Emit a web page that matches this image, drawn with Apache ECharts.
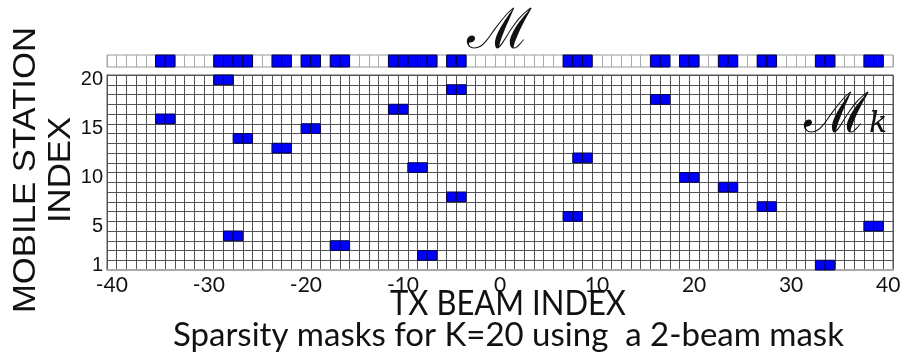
<!DOCTYPE html>
<html><head><meta charset="utf-8">
<script src="https://cdn.jsdelivr.net/npm/echarts@6/dist/echarts.min.js"></script>
<style>html,body{margin:0;padding:0;background:#fff}#c{width:910px;height:356px}</style>
</head><body><div id="c"></div>
<script>
// Categories
const beamIndex = [];
for (let b = -40; b <= 40; b++) beamIndex.push(b);
const stationIndex = [1,2,3,4,5,6,7,8,9,10,11,12,13,14,15,16,17,18,19,20];
// Tick labels
const xTickLabels = [-40,-30,-20,-10,0,10,20,30,40];
const yTickLabels = [1,5,10,15,20];
// 2-beam sparsity mask per mobile station (station 1..20)
const stationMasks = [
  [33,34],[-8,-7],[-17,-16],[-28,-27],[38,39],
  [7,8],[27,28],[-5,-4],[23,24],[19,20],
  [-9,-8],[8,9],[-23,-22],[-27,-26],[-20,-19],
  [-35,-34],[-11,-10],[16,17],[-5,-4],[-29,-28]
];
// Texts
const xAxisTitle = 'TX BEAM INDEX';
const yAxisTitle = 'MOBILE STATION\nINDEX';
const chartTitle = 'Sparsity masks for K=20 using  a 2-beam mask';

const mainCells = [];
stationMasks.forEach((beams, i) => {
  beams.forEach(b => mainCells.push([beamIndex.indexOf(b), i]));
});
const unionSet = new Set();
stationMasks.forEach(beams => beams.forEach(b => unionSet.add(b)));
const unionCells = [...unionSet].map(b => [beamIndex.indexOf(b), 0]);

function cellRect(params, api) {
  const c = api.coord([api.value(0), api.value(1)]);
  const s = api.size([1, 1]);
  return {
    type: 'rect',
    shape: { x: c[0] - s[0] / 2, y: c[1] - s[1] / 2, width: s[0], height: s[1] },
    style: { fill: '#0000ff', stroke: '#000040', lineWidth: 1 }
  };
}

const chart = echarts.init(document.getElementById('c'), null, { renderer: 'canvas' });
chart.setOption({
  animation: false,
  backgroundColor: '#fff',
  title: {
    text: chartTitle, left: 168, top: 314,
    textStyle: { fontFamily: 'Lato', fontWeight: 'normal', fontSize: 33, color: '#111' }
  },
  grid: [
    { left: 107, right: 17, top: 75, height: 195, show: true, borderColor: '#555', borderWidth: 1, backgroundColor: '#fff' },
    { left: 107, right: 17, top: 55, height: 12, show: true, borderColor: '#999', borderWidth: 1, backgroundColor: '#fff' }
  ],
  xAxis: [
    {
      type: 'category', gridIndex: 0, data: beamIndex, boundaryGap: true,
      axisLine: { show: true, lineStyle: { color: '#aaa', width: 2 } },
      axisTick: { show: false },
      axisLabel: {
        interval: 0, margin: 5,
        formatter: v => xTickLabels.includes(+v) ? String(v) : '',
        fontFamily: 'Lato', fontSize: 21, color: '#111'
      },
      splitLine: { show: true, interval: 0, lineStyle: { color: '#555', width: 1 } }
    },
    {
      type: 'category', gridIndex: 1, data: beamIndex, boundaryGap: true,
      axisLine: { show: false }, axisTick: { show: false }, axisLabel: { show: false },
      splitLine: { show: true, interval: 0, lineStyle: { color: '#aaa', width: 1 } }
    }
  ],
  yAxis: [
    {
      type: 'category', gridIndex: 0, data: stationIndex, boundaryGap: true,
      axisLine: { show: true, lineStyle: { color: '#555' } },
      axisTick: { show: false },
      axisLabel: {
        interval: 0, margin: 4,
        formatter: v => yTickLabels.includes(+v) ? String(v) : '',
        fontFamily: 'Liberation Sans', fontSize: 20, color: '#111'
      },
      splitLine: { show: true, interval: 0, lineStyle: { color: '#555', width: 1 } }
    },
    {
      type: 'category', gridIndex: 1, data: ['M'], boundaryGap: true,
      axisLine: { show: false }, axisTick: { show: false }, axisLabel: { show: false },
      splitLine: { show: false }
    }
  ],
  series: [
    { type: 'custom', xAxisIndex: 0, yAxisIndex: 0, renderItem: cellRect, data: mainCells, z: 5 },
    { type: 'custom', xAxisIndex: 1, yAxisIndex: 1, renderItem: cellRect, data: unionCells, z: 5 }
  ],
  graphic: [
    { type: 'text', x: 44, y: 170, rotation: Math.PI / 2, scaleX: 1.12,
      style: { text: yAxisTitle, fontFamily: 'Liberation Sans', fontSize: 31, lineHeight: 35,
               align: 'center', verticalAlign: 'middle', fill: '#111' }, z: 100 },
    { type: 'text', x: 508, y: 304, scaleY: 1.12,
      style: { text: xAxisTitle, fontFamily: 'Lato', fontSize: 31, fill: '#111',
               align: 'center', verticalAlign: 'middle' }, z: 100 },
    { type: 'text', x: 499, y: 33, style: { text: 'ℳ', fontFamily: 'DejaVu Serif', fontSize: 56, fill: '#111', align: 'center', verticalAlign: 'middle' }, z: 100 },
    { type: 'text', x: 836, y: 117, style: { text: 'ℳ', fontFamily: 'DejaVu Serif', fontSize: 56, fill: '#111', align: 'center', verticalAlign: 'middle' }, z: 100 },
    { type: 'text', x: 878, y: 124, style: { text: 'k', fontFamily: 'DejaVu Serif', fontStyle: 'italic', fontSize: 30, fill: '#111', align: 'center', verticalAlign: 'middle' }, z: 100 }
  ]
});
</script>
</body></html>
